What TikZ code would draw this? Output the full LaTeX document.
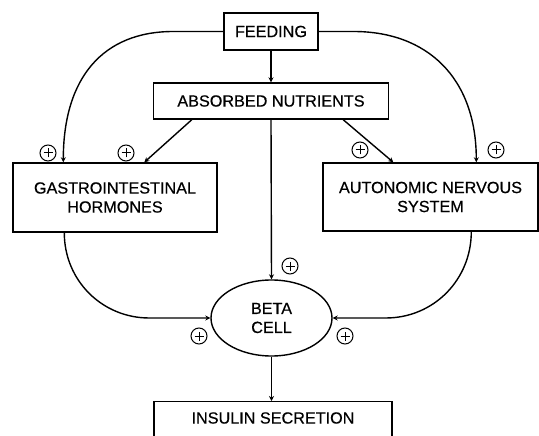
\documentclass[tikz,border=0pt]{standalone}
\usepackage{fontspec}
\setmainfont{Liberation Sans}
\newfontfamily\heavysans{Liberation Sans}[FakeBold=0.5]
\usetikzlibrary{arrows.meta,calc,shapes.geometric}
\begin{document}
\begin{tikzpicture}[x=1pt,y=-1pt,
  lbl/.style={font=\heavysans\fontsize{16.2}{19}\selectfont, align=center},
  boxnode/.style={draw, line width=1.4pt, inner sep=0pt, lbl},
  conn/.style={line width=1.4pt, -{Stealth[length=5pt,width=5pt]}},
  pluscirc/.style={circle, draw, line width=1pt, minimum size=16pt, inner sep=0pt,
    path picture={\draw[line width=1pt] ($(path picture bounding box.center)+(-4.5pt,0)$) -- ++(9pt,0)
      ($(path picture bounding box.center)+(0,-4.5pt)$) -- ++(0,9pt);}}
]
\useasboundingbox (0,0) rectangle (539,436);
\begin{scope}
\clip (0,0) rectangle (539,436);
\node[boxnode, minimum width=94pt, minimum height=37pt] (feed) at (271,31.5) {FEEDING};
\node[boxnode, minimum width=235pt, minimum height=36pt] (an) at (271,101) {ABSORBED NUTRIENTS};
\node[boxnode, minimum width=204pt, minimum height=69pt] (gi) at (115,197.5) {GASTROINTESTINAL\\HORMONES};
\node[boxnode, minimum width=215pt, minimum height=68pt] (ans) at (430.5,197) {AUTONOMIC NERVOUS\\SYSTEM};
\node[ellipse, draw, line width=1.4pt, minimum width=121pt, minimum height=76pt, inner sep=0pt, lbl] (beta) at (271.5,318) {BETA\\CELL};
\node[boxnode, minimum width=238pt, minimum height=50pt, anchor=north] (ins) at (273,401) {};
\node[lbl] (instext) at (273,418) {INSULIN SECRETION};

% connectors
\draw[conn] (feed.south) -- (an.north);
\draw[conn] (an.south) -- (beta.north);
\draw[conn] (beta.south) -- (ins.north -| beta.south);
\draw[conn] ($(an.south west)+(39,0)$) -- ($(gi.north west)+(132,0)$);
\draw[conn] ($(an.south east)+(-46,0)$) -- ($(ans.north west)+(71,0)$);
\draw[conn] (feed.west) -- ++(-50,0) .. controls +(-70,0) and +(0,-85) .. ($(gi.north west)+(51,0)$);
\draw[conn] (feed.east) -- ++(35,0) .. controls +(73,0) and +(0,-85) .. ($(ans.north west)+(154,0)$);
\draw[conn] ($(gi.south west)+(52,0)$) .. controls +(0,48) and +(-47,0) .. ($(beta.west)+(-61,0)$) -- (beta.west);
\draw[conn] ($(ans.south west)+(149,0)$) .. controls +(0,48) and +(48,0) .. ($(beta.east)+(53,0)$) -- (beta.east);

% signs
\node[pluscirc] (p1) at (48,153) {};
\node[pluscirc] (p2) at (126,153) {};
\node[pluscirc] (p3) at (360,150) {};
\node[pluscirc] (p4) at (496,150) {};
\node[pluscirc] (p5) at (290,266) {};
\node[pluscirc] (p6) at (199,336) {};
\node[pluscirc] (p7) at (345,336) {};
\end{scope}
\end{tikzpicture}
\end{document}
